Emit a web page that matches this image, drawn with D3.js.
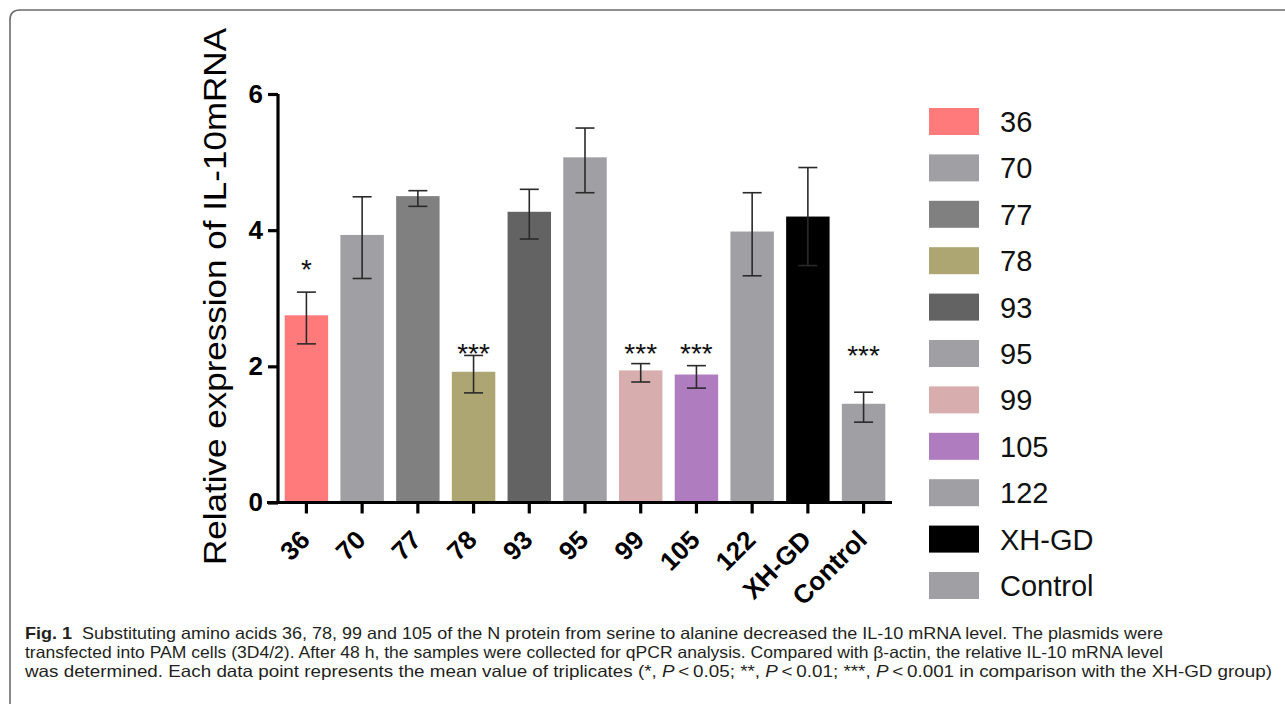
<!DOCTYPE html>
<html>
<head>
<meta charset="utf-8">
<script src="https://cdn.jsdelivr.net/npm/d3@7"></script>
<style>
  body { margin: 0; background: #fff; }
  svg { display: block; }
</style>
</head>
<body>
<div id="vis"></div>
<script>
// data
const GROUPS = ["36", "70", "77", "78", "93", "95", "99", "105", "122", "XH-GD", "Control"];
const MEANS = [2.75, 3.93, 4.50, 1.92, 4.27, 5.07, 1.94, 1.88, 3.98, 4.20, 1.45];
const ERR_HIGH = [3.09, 4.49, 4.58, 2.16, 4.60, 5.50, 2.04, 2.01, 4.55, 4.92, 1.62];
const ERR_LOW = [2.33, 3.29, 4.35, 1.61, 3.87, 4.55, 1.77, 1.68, 3.33, 3.48, 1.18];
const COLORS = ["#ff7b7b", "#a0a0a4", "#808080", "#ada673", "#636363", "#a0a0a4",
                "#d8adad", "#b07cc0", "#a0a0a4", "#000000", "#a0a0a4"];
const STAR_GROUPS = ["36", "78", "99", "105", "Control"];
const STAR_TEXT = ["*", "***", "***", "***", "***"];
const STAR_LEVEL = [3.52, 2.29, 2.29, 2.29, 2.25];
const Y_TICKS = [0, 2, 4, 6];

const CAPTION = [
  [{t: "Fig. 1", b: true}, {t: "  Substituting amino acids 36, 78, 99 and 105 of the N protein from serine to alanine decreased the IL-10 mRNA level. The plasmids were"}],
  [{t: "transfected into PAM cells (3D4/2). After 48 h, the samples were collected for qPCR analysis. Compared with \u03b2-actin, the relative IL-10 mRNA level"}],
  [{t: "was determined. Each data point represents the mean value of triplicates (*, "}, {t: "P", i: true}, {t: "\u2009<\u20090.05; **, "}, {t: "P", i: true},
   {t: "\u2009<\u20090.01; ***, "}, {t: "P", i: true}, {t: "\u2009<\u20090.001 in comparison with the XH-GD group)"}]
];
const CAPTION_LEN = [1138, 1138, 1247];

const FRAME_WIDTH = 1285;
const FRAME_HEIGHT = 706;
const PLOT = {left: 278, right: 892, top: 94, bottom: 502.5};

const svg = d3.select("#vis")
  .append("svg")
    .attr("width", FRAME_WIDTH)
    .attr("height", FRAME_HEIGHT);

// figure frame (top + left edge, rounded corner)
svg.append("path")
  .attr("d", "M10,704 Q10,700 10,696 L10,20 Q10,10 20,10 L1285,10")
  .attr("fill", "none")
  .attr("stroke", "#6b6b6b")
  .attr("stroke-width", 1.6);

const X_SCALE = d3.scaleBand()
  .domain(GROUPS)
  .range([PLOT.left, PLOT.right])
  .paddingInner(0.22)
  .paddingOuter(0.12);

const Y_SCALE = d3.scaleLinear()
  .domain([0, 6])
  .range([PLOT.bottom, PLOT.top]);

const rows = GROUPS.map((g, i) => ({g: g, m: MEANS[i], hi: ERR_HIGH[i], lo: ERR_LOW[i], c: COLORS[i]}));

// bars
svg.selectAll(".bar")
  .data(rows)
  .enter()
  .append("rect")
    .attr("class", "bar")
    .attr("x", d => X_SCALE(d.g))
    .attr("y", d => Y_SCALE(d.m))
    .attr("width", X_SCALE.bandwidth())
    .attr("height", d => Y_SCALE(0) - Y_SCALE(d.m))
    .attr("fill", d => d.c);

// error bars
const capW = 19;
const eb = svg.selectAll(".err")
  .data(rows)
  .enter()
  .append("g")
    .attr("class", "err")
    .attr("stroke", "#2a2a2a")
    .attr("stroke-width", 1.6);
eb.append("line")
  .attr("x1", d => X_SCALE(d.g) + X_SCALE.bandwidth() / 2)
  .attr("x2", d => X_SCALE(d.g) + X_SCALE.bandwidth() / 2)
  .attr("y1", d => Y_SCALE(d.lo))
  .attr("y2", d => Y_SCALE(d.hi));
eb.append("line")
  .attr("x1", d => X_SCALE(d.g) + X_SCALE.bandwidth() / 2 - capW / 2)
  .attr("x2", d => X_SCALE(d.g) + X_SCALE.bandwidth() / 2 + capW / 2)
  .attr("y1", d => Y_SCALE(d.hi))
  .attr("y2", d => Y_SCALE(d.hi));
eb.append("line")
  .attr("x1", d => X_SCALE(d.g) + X_SCALE.bandwidth() / 2 - capW / 2)
  .attr("x2", d => X_SCALE(d.g) + X_SCALE.bandwidth() / 2 + capW / 2)
  .attr("y1", d => Y_SCALE(d.lo))
  .attr("y2", d => Y_SCALE(d.lo));

// significance stars
svg.selectAll(".star")
  .data(STAR_GROUPS)
  .enter()
  .append("text")
    .attr("class", "star")
    .attr("x", d => X_SCALE(d) + X_SCALE.bandwidth() / 2)
    .attr("y", (d, i) => Y_SCALE(STAR_LEVEL[i]) + 16)
    .attr("text-anchor", "middle")
    .attr("font-family", "Liberation Sans, Arial, sans-serif")
    .attr("font-size", 28)
    .attr("fill", "#111")
    .text((d, i) => STAR_TEXT[i]);

// y axis
const yAxis = svg.append("g")
  .attr("transform", "translate(" + PLOT.left + ",0)")
  .call(d3.axisLeft(Y_SCALE).tickValues(Y_TICKS).tickFormat(d3.format("d"))
          .tickSize(10).tickSizeOuter(0).tickPadding(5));
yAxis.selectAll("path, line").attr("stroke", "#000").attr("stroke-width", 3.2);
yAxis.selectAll("text")
  .attr("font-family", "Liberation Sans, Arial, sans-serif")
  .attr("font-weight", "bold")
  .attr("font-size", 26)
  .attr("fill", "#000");
yAxis.select("path.domain").attr("d", "M0," + PLOT.top + "V" + (PLOT.bottom + 1.5));

// x axis
const xAxis = svg.append("g")
  .attr("transform", "translate(0," + PLOT.bottom + ")")
  .call(d3.axisBottom(X_SCALE).tickSize(11).tickSizeOuter(0).tickPadding(6));
xAxis.selectAll("path, line").attr("stroke", "#000").attr("stroke-width", 3.2);
xAxis.select("path.domain").attr("d", "M" + (PLOT.left - 11) + ",0H" + PLOT.right);
xAxis.selectAll("text")
  .attr("font-family", "Liberation Sans, Arial, sans-serif")
  .attr("font-weight", "bold")
  .attr("font-size", 26)
  .attr("fill", "#000")
  .attr("text-anchor", "end")
  .attr("dy", null)
  .attr("y", 0)
  .attr("transform", "translate(5,39) rotate(-45)");

// y axis title
svg.append("text")
  .attr("transform", "translate(226,296.5) rotate(-90)")
  .attr("text-anchor", "middle")
  .attr("font-family", "Liberation Sans, Arial, sans-serif")
  .attr("font-size", 32)
  .attr("fill", "#000")
  .attr("textLength", 537)
  .attr("lengthAdjust", "spacingAndGlyphs")
  .text("Relative expression of IL-10mRNA");

// legend
const legend = svg.selectAll(".legend")
  .data(rows)
  .enter()
  .append("g")
    .attr("class", "legend")
    .attr("transform", (d, i) => "translate(929," + (108 + i * 46.4) + ")");
legend.append("rect")
  .attr("width", 50)
  .attr("height", 27)
  .attr("fill", d => d.c);
legend.append("text")
  .attr("x", 71)
  .attr("y", 13.5)
  .attr("dy", "0.36em")
  .attr("font-family", "Liberation Sans, Arial, sans-serif")
  .attr("font-size", 29)
  .attr("fill", "#111")
  .text(d => d.g);

// caption
CAPTION.forEach((parts, li) => {
  const t = svg.append("text")
    .attr("x", 25)
    .attr("y", 639 + li * 19)
    .attr("font-family", "Liberation Sans Narrow, Liberation Sans, Arial, sans-serif")
    .attr("font-size", 16.5)
    .attr("fill", "#231f20")
    .attr("textLength", CAPTION_LEN[li])
    .attr("lengthAdjust", "spacingAndGlyphs")
    .attr("xml:space", "preserve");
  parts.forEach(p => {
    t.append("tspan")
      .attr("font-weight", p.b ? "bold" : null)
      .attr("font-style", p.i ? "italic" : null)
      .text(p.t);
  });
});
</script>
</body>
</html>
